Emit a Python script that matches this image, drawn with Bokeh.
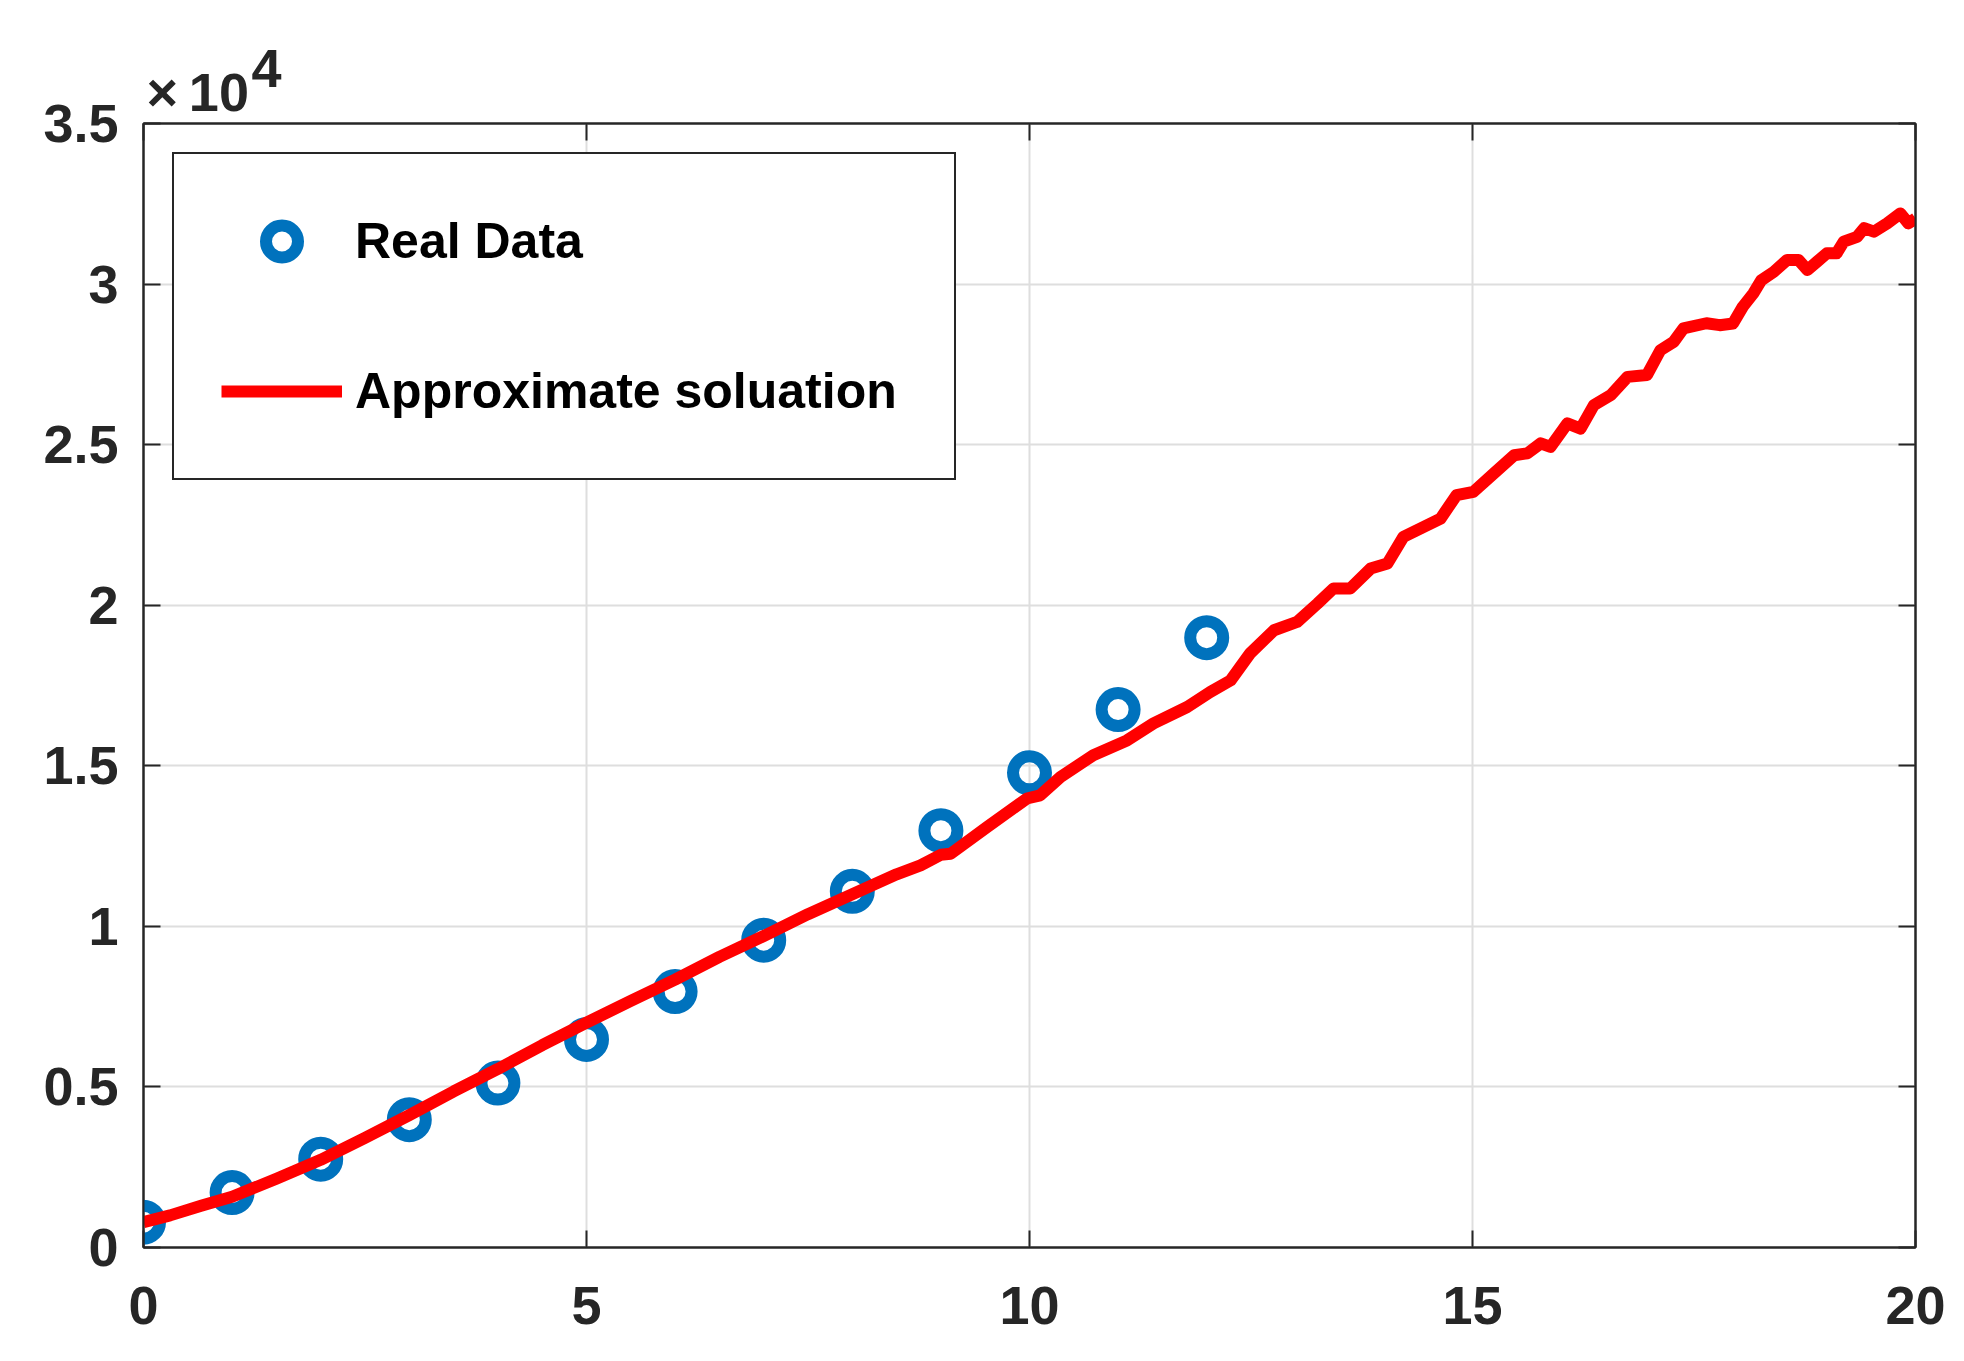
from bokeh.plotting import figure
from bokeh.models import Range1d, LinearAxis, FixedTicker, Legend, LegendItem
from bokeh.embed import file_html
from bokeh.resources import INLINE

# ---- data ----
x_real = [0, 1, 2, 3, 4, 5, 6, 7, 8, 9, 10, 11, 12]
y_real = [790, 1710, 2750, 3980, 5120, 6480, 7970, 9570, 11090, 12980, 14780, 16750, 18990]

x_approx = [0.00, 0.30, 0.65, 1.00, 1.50, 2.00, 2.50, 3.00, 3.50, 4.00, 4.50, 5.00,
            5.50, 6.00, 6.50, 7.00, 7.50, 8.00, 8.50, 8.77, 9.00, 9.11, 9.52, 9.97,
            10.12, 10.35, 10.72, 11.10, 11.40, 11.78, 12.04, 12.27, 12.49, 12.76,
            13.02, 13.25, 13.43, 13.62, 13.85, 14.04, 14.22, 14.45, 14.64, 14.82,
            15.01, 15.24, 15.47, 15.62, 15.77, 15.88, 16.07, 16.22, 16.37, 16.56,
            16.75, 16.97, 17.12, 17.27, 17.38, 17.64, 17.79, 17.94, 18.05, 18.17,
            18.26, 18.40, 18.55, 18.68, 18.78, 18.89, 19.00, 19.11, 19.19, 19.34,
            19.42, 19.53, 19.68, 19.83, 19.92, 20.00]
y_approx = [790, 1000, 1300, 1580, 2140, 2730, 3410, 4120, 4860, 5560, 6300, 7000,
            7680, 8340, 9050, 9700, 10380, 11000, 11620, 11900, 12230, 12260, 13090, 13980,
            14080, 14650, 15330, 15790, 16320, 16830, 17300, 17660, 18500, 19220,
            19480, 20050, 20520, 20520, 21140, 21300, 22130, 22440, 22700, 23430,
            23530, 24100, 24670, 24730, 25040, 24930, 25660, 25500, 26230, 26540,
            27110, 27170, 27940, 28200, 28620, 28780, 28720, 28770, 29290, 29710,
            30120, 30380, 30750, 30750, 30440, 30700, 30960, 30960, 31320, 31470,
            31740, 31630, 31890, 32200, 31890, 32040]

x_ticks = [0, 5, 10, 15, 20]
y_ticks = [0, 5000, 10000, 15000, 20000, 25000, 30000, 35000]
y_tick_labels = ["0", "0.5", "1", "1.5", "2", "2.5", "3", "3.5"]
legend_labels = ["Real Data", "Approximate soluation"]
multiplier_base = "\u00d7\u200910"
multiplier_exp = "4"

FONT = "Liberation Sans"
DARK = "#262626"

p = figure(frame_width=1772, frame_height=1124,
           x_range=Range1d(0, 20), y_range=Range1d(0, 35000),
           min_border_left=143, min_border_right=49,
           min_border_top=123, min_border_bottom=114,
           output_backend="svg", toolbar_location=None,
           background_fill_color="white", border_fill_color="white")

p.outline_line_color = DARK
p.outline_line_width = 2

top_axis = LinearAxis()
right_axis = LinearAxis()
p.add_layout(top_axis, "above")
p.add_layout(right_axis, "right")

for ax in [p.below[0], top_axis]:
    ax.ticker = FixedTicker(ticks=x_ticks)
for ax in [p.left[0], right_axis]:
    ax.ticker = FixedTicker(ticks=y_ticks)
    ax.major_label_overrides = {t: l for t, l in zip(y_ticks, y_tick_labels)}

for ax in [p.below[0], top_axis, p.left[0], right_axis]:
    ax.axis_line_color = DARK
    ax.axis_line_width = 2
    ax.major_tick_line_color = DARK
    ax.major_tick_line_width = 2
    ax.major_tick_in = 17
    ax.major_tick_out = 0
    ax.minor_tick_line_color = None
    ax.major_label_text_font = FONT
    ax.major_label_text_font_style = "bold"
    ax.major_label_text_font_size = "54px"
    ax.major_label_text_color = DARK

# top/right axes only carry the inward ticks of the box
for ax in [top_axis, right_axis]:
    ax.major_label_text_font_size = "1px"
    ax.major_label_text_color = None
    ax.major_label_standoff = 0

p.below[0].major_label_standoff = 39
p.left[0].major_label_standoff = 25

p.xgrid.ticker = FixedTicker(ticks=x_ticks)
p.ygrid.ticker = FixedTicker(ticks=y_ticks)
for g in [p.xgrid, p.ygrid]:
    g.grid_line_color = "#dedede"
    g.grid_line_width = 2

r_scatter = p.scatter(x_real, y_real, marker="circle", size=33, line_width=12,
                      line_color="#0072BD", fill_color=None)
r_line = p.line(x_approx, y_approx, line_width=12, line_color="#FF0000",
                line_join="round", line_cap="butt")

legend = Legend(items=[LegendItem(label=legend_labels[0], renderers=[r_scatter]),
                       LegendItem(label=legend_labels[1], renderers=[r_line])],
                location="top_left", margin=29, padding=47, spacing=70,
                glyph_width=121, glyph_height=80, label_height=80,
                label_width=552, label_standoff=13,
                label_text_font=FONT, label_text_font_style="bold",
                label_text_font_size="50px", label_text_color="black",
                border_line_color=DARK, border_line_width=2, border_line_alpha=1.0,
                background_fill_color="white", background_fill_alpha=1.0)
p.add_layout(legend)

# x10^4 multiplier above the y axis (title row, outside the frame)
p.title.text = "\u00a0" * 7 + multiplier_exp + "\n" + multiplier_base
p.title.align = "left"
p.title.offset = 3
p.title.standoff = 4
p.title.text_font = FONT
p.title.text_font_style = "bold"
p.title.text_font_size = "54px"
p.title.text_color = DARK
p.title.text_line_height = 0.40

open("out.html", "w").write(file_html(p, INLINE))
